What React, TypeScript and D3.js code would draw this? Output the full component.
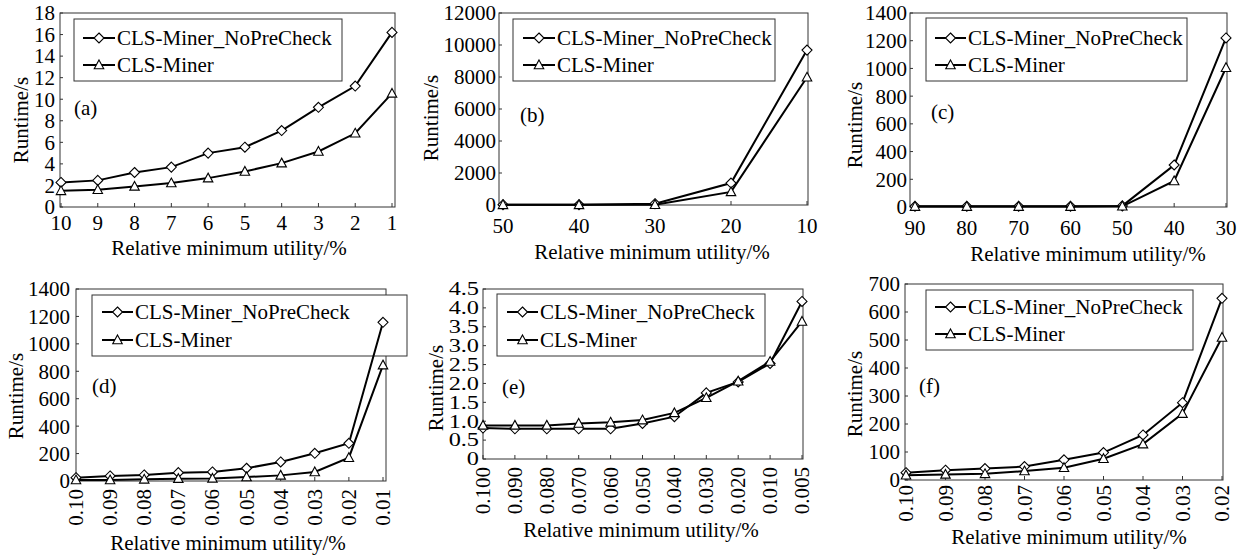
import React from "react";
import * as d3 from "d3";

// ---------- data ----------
const seriesNames = ["CLS-Miner_NoPreCheck", "CLS-Miner"];

const xA = ["10", "9", "8", "7", "6", "5", "4", "3", "2", "1"];
const aNoPre = [2.28, 2.47, 3.2, 3.7, 5.0, 5.55, 7.09, 9.25, 11.22, 16.2];
const aCls = [1.5, 1.6, 1.91, 2.22, 2.68, 3.3, 4.07, 5.15, 6.84, 10.54];
const yTicksA = [0, 2, 4, 6, 8, 10, 12, 14, 16, 18];

const xB = ["50", "40", "30", "20", "10"];
const bNoPre = [20, 15, 80, 1370, 9680];
const bCls = [10, 8, 20, 820, 7980];
const yTicksB = [0, 2000, 4000, 6000, 8000, 10000, 12000];

const xC = ["90", "80", "70", "60", "50", "40", "30"];
const cNoPre = [5, 5, 5, 5, 8, 303, 1220];
const cCls = [3, 3, 3, 3, 5, 188, 1005];
const yTicksC = [0, 200, 400, 600, 800, 1000, 1200, 1400];

const xD = ["0.10", "0.09", "0.08", "0.07", "0.06", "0.05", "0.04", "0.03", "0.02", "0.01"];
const dNoPre = [24, 37, 44, 61, 66, 93, 139, 202, 275, 1157];
const dCls = [7, 7, 12, 17, 19, 29, 41, 66, 170, 845];
const yTicksD = [0, 200, 400, 600, 800, 1000, 1200, 1400];

const xE = ["0.100", "0.090", "0.080", "0.070", "0.060", "0.050", "0.040", "0.030", "0.020", "0.010", "0.005"];
const eNoPre = [0.82, 0.8, 0.8, 0.8, 0.8, 0.94, 1.12, 1.75, 2.04, 2.53, 4.17];
const eCls = [0.89, 0.89, 0.89, 0.94, 0.97, 1.03, 1.22, 1.62, 2.06, 2.58, 3.64];
const yTicksE = [0, 0.5, 1.0, 1.5, 2.0, 2.5, 3.0, 3.5, 4.0, 4.5];

const xF = ["0.10", "0.09", "0.08", "0.07", "0.06", "0.05", "0.04", "0.03", "0.02"];
const fNoPre = [26, 35, 41, 48, 72, 98, 161, 276, 649];
const fCls = [17, 20, 22, 32, 44, 76, 128, 237, 509];
const yTicksF = [0, 100, 200, 300, 400, 500, 600, 700];

const panelLabels = ["(a)", "(b)", "(c)", "(d)", "(e)", "(f)"];
const xTitle = "Relative minimum utility/%";
const yTitle = "Runtime/s";

// ---------- layout ----------
type Layout = {
  box: [number, number, number, number]; // left, right, top, bottom
  pts: [number, number];
  yLabelEnd: number;
  yLabelSize: number;
  yLabelStretch: number;
  yTitleX: number;
  yTitleY: number;
  rotated: boolean;
  xLabelY: number;
  xTitleX: number;
  xTitleY: number;
  legend: [number, number, number, number];
  legLine: [number, number];
  legRows: [number, number];
  tag: [number, number];
  fmt: (v: number) => string;
};

const FONT = "'Liberation Serif', 'Times New Roman', serif";
const FS = 21;

const intFmt = (v: number) => String(v);

const layouts: Layout[] = [
  { box: [60, 395, 13, 207], pts: [61, 392], yLabelEnd: 55, yLabelSize: 21, yLabelStretch: 1, yTitleX: 28, yTitleY: 120, rotated: false, xLabelY: 230, xTitleX: 229, xTitleY: 255, legend: [74, 342, 19, 81], legLine: [83, 115], legRows: [45, 72], tag: [74, 115], fmt: intFmt },
  { box: [499, 808, 13, 205], pts: [503, 807], yLabelEnd: 496, yLabelSize: 21, yLabelStretch: 1, yTitleX: 438, yTitleY: 118, rotated: false, xLabelY: 233, xTitleX: 652, xTitleY: 259, legend: [513, 775, 19, 81], legLine: [523, 555], legRows: [45, 72], tag: [520, 122], fmt: intFmt },
  { box: [910, 1227, 13, 207], pts: [915, 1226], yLabelEnd: 907, yLabelSize: 21, yLabelStretch: 1, yTitleX: 862, yTitleY: 125, rotated: false, xLabelY: 235, xTitleX: 1088, xTitleY: 261, legend: [926, 1187, 18, 81], legLine: [935, 966], legRows: [45, 72], tag: [931, 119], fmt: intFmt },
  { box: [76, 386, 289, 481], pts: [76, 383], yLabelEnd: 70, yLabelSize: 21, yLabelStretch: 1, yTitleX: 23, yTitleY: 396, rotated: true, xLabelY: 489, xTitleX: 228, xTitleY: 550, legend: [92, 407, 295, 356], legLine: [102, 133], legRows: [319, 347], tag: [92, 393], fmt: intFmt },
  { box: [483, 803, 289, 459], pts: [483, 802], yLabelEnd: 479, yLabelSize: 18, yLabelStretch: 1.35, yTitleX: 443, yTitleY: 388, rotated: true, xLabelY: 467, xTitleX: 641, xTitleY: 537, legend: [497, 765, 294, 356], legLine: [507, 538], legRows: [319, 347], tag: [502, 394], fmt: (v) => (v === 0 ? "0" : v.toFixed(1)) },
  { box: [905, 1223, 284, 480], pts: [906, 1222], yLabelEnd: 900, yLabelSize: 21, yLabelStretch: 1, yTitleX: 862, yTitleY: 394, rotated: true, xLabelY: 485, xTitleX: 1069, xTitleY: 544, legend: [926, 1193, 290, 350], legLine: [935, 966], legRows: [314, 341], tag: [919, 393], fmt: intFmt },
];

const panelData = [
  { x: xA, s: [aNoPre, aCls], yt: yTicksA },
  { x: xB, s: [bNoPre, bCls], yt: yTicksB },
  { x: xC, s: [cNoPre, cCls], yt: yTicksC },
  { x: xD, s: [dNoPre, dCls], yt: yTicksD },
  { x: xE, s: [eNoPre, eCls], yt: yTicksE },
  { x: xF, s: [fNoPre, fCls], yt: yTicksF },
];

function Diamond({ x, y }: { x: number; y: number }) {
  const r = 5;
  return (
    <path
      d={`M${x},${y - r}L${x + r},${y}L${x},${y + r}L${x - r},${y}Z`}
      fill="white"
      stroke="black"
      strokeWidth={1.1}
    />
  );
}

function Triangle({ x, y }: { x: number; y: number }) {
  const r = 5;
  return (
    <path
      d={`M${x},${y - r}L${x + r * 0.95},${y + r * 0.75}L${x - r * 0.95},${y + r * 0.75}Z`}
      fill="white"
      stroke="black"
      strokeWidth={1.1}
    />
  );
}

function Panel({ idx }: { idx: number }) {
  const L = layouts[idx];
  const D = panelData[idx];
  const [left, right, top, bottom] = L.box;
  const yMax = D.yt[D.yt.length - 1];
  const x = d3.scalePoint<string>().domain(D.x).range(L.pts);
  const y = d3.scaleLinear().domain([0, yMax]).range([bottom, top]);
  const line = d3
    .line<number>()
    .x((_, i) => x(D.x[i]) as number)
    .y((v) => y(v));
  const [lx0, lx1, ly0, ly1] = L.legend;
  const markerX = (L.legLine[0] + L.legLine[1]) / 2;
  return (
    <g fontFamily={FONT} fontSize={FS} fill="black">
      {/* frame */}
      <rect x={left} y={top} width={right - left} height={bottom - top} fill="none" stroke="#333" strokeWidth={1} />
      {/* y ticks */}
      {D.yt.map((t) => (
        <g key={"y" + t}>
          <line x1={left} x2={left + 3} y1={y(t)} y2={y(t)} stroke="#333" />
          <text
            transform={`translate(${L.yLabelEnd},${y(t)}) scale(${L.yLabelStretch},1)`}
            dy="0.35em"
            textAnchor="end"
            fontSize={L.yLabelSize}
          >
            {L.fmt(t)}
          </text>
        </g>
      ))}
      {/* x ticks */}
      {D.x.map((c) => {
        const px = x(c) as number;
        return (
          <g key={"x" + c}>
            <line x1={px} x2={px} y1={bottom} y2={bottom - 4} stroke="#333" />
            {L.rotated ? (
              <text transform={`translate(${px + 7},${L.xLabelY}) rotate(-90)`} textAnchor="end">
                {c}
              </text>
            ) : (
              <text x={px} y={L.xLabelY} textAnchor="middle">
                {c}
              </text>
            )}
          </g>
        );
      })}
      {/* titles */}
      <text x={L.xTitleX} y={L.xTitleY} textAnchor="middle">
        {xTitle}
      </text>
      <text transform={`translate(${L.yTitleX},${L.yTitleY}) rotate(-90)`} textAnchor="middle">
        {yTitle}
      </text>
      {/* legend (drawn beneath the data lines) */}
      <rect x={lx0} y={ly0} width={lx1 - lx0} height={ly1 - ly0} fill="white" stroke="#333" strokeWidth={1} />
      {seriesNames.map((n, si) => {
        const ry = L.legRows[si] - 7;
        return (
          <g key={"l" + si}>
            <line x1={L.legLine[0]} x2={L.legLine[1]} y1={ry} y2={ry} stroke="black" strokeWidth={2} />
            {si === 0 ? <Diamond x={markerX} y={ry} /> : <Triangle x={markerX} y={ry} />}
            <text x={L.legLine[1] + 2} y={L.legRows[si]}>
              {n}
            </text>
          </g>
        );
      })}
      {/* panel tag */}
      <text x={L.tag[0]} y={L.tag[1]}>
        {panelLabels[idx]}
      </text>
      {/* series */}
      {D.s.map((vals, si) => (
        <g key={"s" + si}>
          <path d={line(vals) || ""} fill="none" stroke="black" strokeWidth={2} />
          {vals.map((v, i) =>
            si === 0 ? (
              <Diamond key={i} x={x(D.x[i]) as number} y={y(v)} />
            ) : (
              <Triangle key={i} x={x(D.x[i]) as number} y={y(v)} />
            )
          )}
        </g>
      ))}
    </g>
  );
}

export default function App() {
  return (
    <svg
      width={1250}
      height={556}
      style={{ position: "absolute", left: 0, top: 0, background: "white" }}
    >
      <rect x={0} y={0} width={1250} height={556} fill="white" />
      {layouts.map((_, i) => (
        <Panel key={i} idx={i} />
      ))}
    </svg>
  );
}
